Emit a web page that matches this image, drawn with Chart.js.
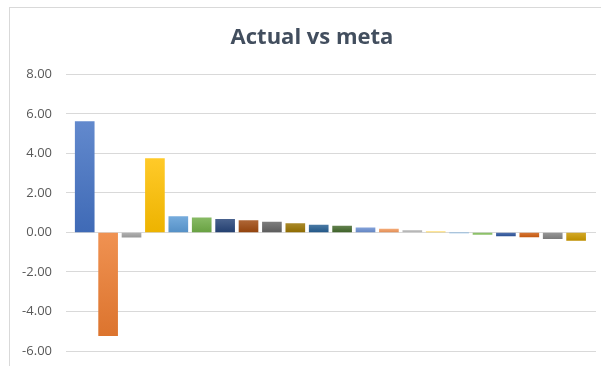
<!DOCTYPE html>
<html>
<head>
<meta charset="utf-8">
<title>Actual vs meta</title>
<script src="https://cdn.jsdelivr.net/npm/chart.js@4.4.1/dist/chart.umd.min.js"></script>
<style>
    html, body { margin: 0; padding: 0; background: #fff; overflow: hidden; }
    .wrap { position: relative; width: 601px; height: 366px; overflow: hidden; }
    .frame {
        position: absolute; left: 9px; top: 7px; width: 640px; height: 420px;
        border: 1px solid #d9d9d9; box-sizing: border-box;
    }
    canvas { position: absolute; left: 0; top: 0; }
</style>
</head>
<body>
<div class="wrap">
    <div class="frame"></div>
    <canvas id="metaChart" width="624" height="366"></canvas>
</div>
<script>
// actual minus target, one bar per item
const values = [5.61, -5.22, -0.24, 3.74, 0.80, 0.74, 0.67, 0.60, 0.52, 0.45, 0.37,
                0.32, 0.23, 0.17, 0.10, 0.03, -0.02, -0.10, -0.17, -0.23, -0.32, -0.40];

const barColors = [
    '#4472C4', '#ED7D31', '#A5A5A5', '#FFC000', '#5B9BD5', '#70AD47',
    '#264478', '#9E480E', '#636363', '#997300', '#255E91', '#43682B',
    '#698ED0', '#F1975A', '#B7B7B7', '#FFCD33', '#7CAFDD', '#8CC168',
    '#335AA1', '#D26012', '#848484', '#CC9A00'
];

const yTicks = [-6, -4, -2, 0, 2, 4, 6, 8];

function mix(hex, target, amt) {
    const n = parseInt(hex.slice(1), 16);
    const ch = [n >> 16, (n >> 8) & 255, n & 255].map(c => Math.round(c + (target - c) * amt));
    return 'rgb(' + ch.join(',') + ')';
}

// lighter at the top of each bar, a little darker at the bottom
function barFill(ctx) {
    const base = barColors[ctx.dataIndex];
    const chart = ctx.chart;
    if (!chart.chartArea || ctx.type !== 'data') return base;
    const y = chart.scales.y;
    const v = values[ctx.dataIndex];
    const top = y.getPixelForValue(Math.max(v, 0));
    const bottom = y.getPixelForValue(Math.min(v, 0));
    if (bottom - top < 2) return base;
    const g = chart.ctx.createLinearGradient(0, top, 0, bottom);
    g.addColorStop(0, mix(base, 255, 0.16));
    g.addColorStop(1, mix(base, 0, 0.07));
    return g;
}

Chart.defaults.font.family = "'Open Sans', sans-serif";

const ctx = document.getElementById('metaChart').getContext('2d');
new Chart(ctx, {
    type: 'bar',
    data: {
        datasets: [{
            data: values.map((v, i) => ({ x: i, y: v })),
            backgroundColor: barFill,
            borderWidth: 0,
            barThickness: 19
        }]
    },
    options: {
        responsive: false,
        animation: false,
        layout: { padding: { left: 5, right: 5, top: 0, bottom: 15 } },
        plugins: {
            legend: { display: false },
            tooltip: { enabled: false },
            title: {
                display: true,
                text: 'Actual vs meta',
                color: '#424E5E',
                font: { size: 22, weight: 'bold' },
                padding: { top: 25, bottom: 23 }
            }
        },
        scales: {
            x: {
                type: 'linear',
                min: -0.8,
                max: 21.85,
                offset: false,
                afterFit: axis => { axis.height = 0; },
                grid: { display: false },
                border: { display: false },
                ticks: { display: false }
            },
            y: {
                min: yTicks[0],
                max: yTicks[yTicks.length - 1],
                afterFit: axis => {
                    axis.width = 61;
                    axis.paddingTop = 0;
                    axis.paddingBottom = 0;
                },
                afterBuildTicks: axis => { axis.ticks = yTicks.map(v => ({ value: v })); },
                border: { display: false },
                grid: { color: '#d9d9d9', lineWidth: 1, drawTicks: false },
                ticks: {
                    padding: 14,
                    color: '#595959',
                    font: { size: 13 },
                    callback: v => v.toFixed(2)
                }
            },
            // empty strip on the right so the plot stops short of the edge
            spacer: {
                type: 'linear',
                position: 'right',
                afterFit: axis => { axis.width = 23; },
                grid: { display: false },
                border: { display: false },
                ticks: { display: false }
            }
        }
    }
});
</script>
</body>
</html>
